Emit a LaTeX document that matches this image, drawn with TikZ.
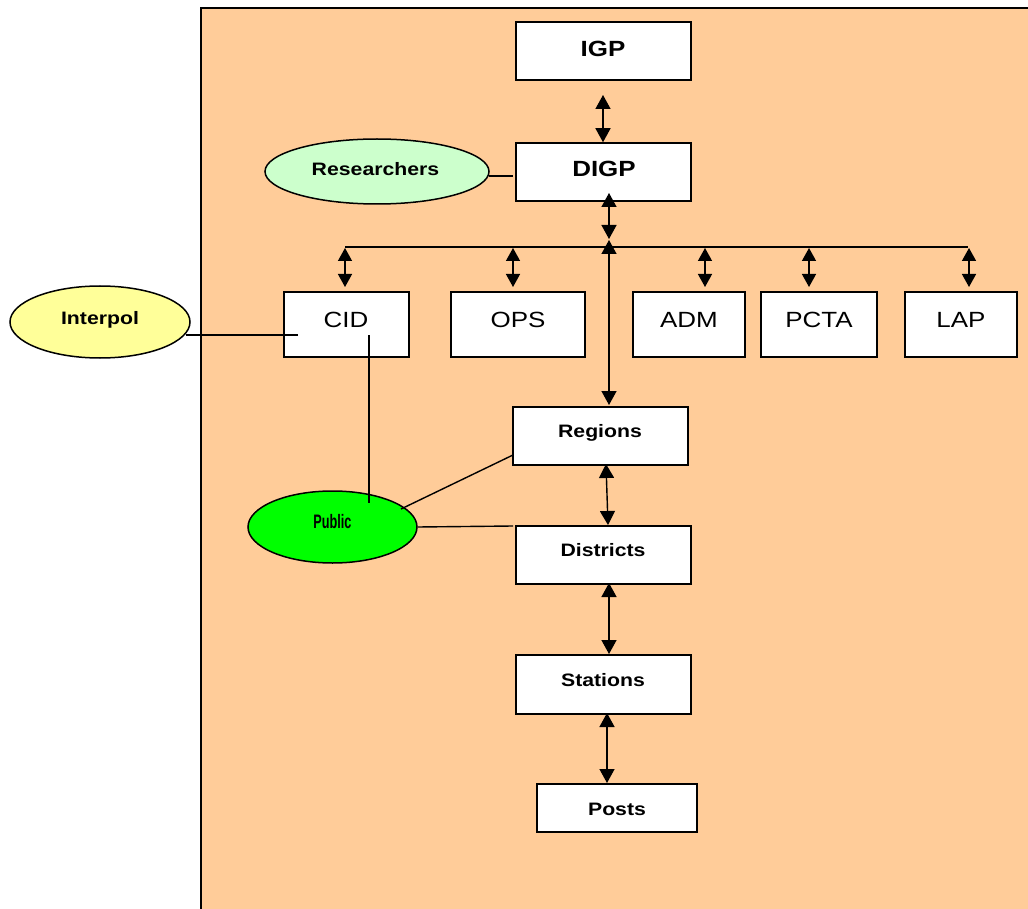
\documentclass[tikz,border=0pt]{standalone}
\usepackage{fontspec}
\setmainfont{Liberation Sans}[FakeStretch=1.18]
\newfontfamily\pubfont{Liberation Sans}[FakeStretch=0.65]
\usetikzlibrary{arrows.meta,shapes.geometric}
\definecolor{peach}{HTML}{FFCC99}
\definecolor{resgreen}{HTML}{CCFFCC}
\definecolor{intyellow}{HTML}{FFFF99}
\definecolor{pubgreen}{HTML}{00FF00}
\begin{document}
\begin{tikzpicture}[x=1pt,y=-1pt,line width=1.4pt,
  box/.style={draw=black,fill=white,line width=1.5pt,inner sep=0pt},
  oval/.style={ellipse,draw=black,line width=1.5pt,inner sep=0pt},
  tb/.style={anchor=base,inner sep=0pt,font=\bfseries\fontsize{18}{20}\selectfont},
  tbig/.style={anchor=base,inner sep=0pt,font=\bfseries\fontsize{22}{24}\selectfont},
  treg/.style={anchor=base,inner sep=0pt,font=\fontsize{22}{24}\selectfont},
  dbl/.style={{Triangle[length=14pt,width=15pt]}-{Triangle[length=14pt,width=15pt]},line width=1.4pt},
  sdbl/.style={{Triangle[length=13pt,width=14pt]}-{Triangle[length=13pt,width=14pt]},line width=1.4pt},
  link/.style={line width=1.4pt}
]
\useasboundingbox (0,0) rectangle (1028,909);
\draw[fill=peach,line width=1.8pt] (201,8) rectangle (1045,925);

% boxes
\node[box,minimum width=175pt,minimum height=58pt] (igp) at (603.5,51) {};
\node[box,minimum width=175pt,minimum height=58pt] (digp) at (603.5,172) {};
\node[box,minimum width=125pt,minimum height=65pt] (cid) at (346.5,324.5) {};
\node[box,minimum width=134pt,minimum height=65pt] (ops) at (518,324.5) {};
\node[box,minimum width=112pt,minimum height=65pt] (adm) at (689,324.5) {};
\node[box,minimum width=116pt,minimum height=65pt] (pcta) at (819,324.5) {};
\node[box,minimum width=112pt,minimum height=65pt] (lap) at (961,324.5) {};
\node[box,minimum width=175pt,minimum height=58pt] (reg) at (600.5,436) {};
\node[box,minimum width=175pt,minimum height=58pt] (dist) at (603.5,555) {};
\node[box,minimum width=175pt,minimum height=59pt] (stat) at (603.5,684.5) {};
\node[box,minimum width=160pt,minimum height=48pt] (posts) at (617,808) {};

% ellipses
\node[oval,fill=resgreen,minimum width=224pt,minimum height=65pt] (res) at (377,171.5) {};
\node[oval,fill=intyellow,minimum width=180pt,minimum height=72pt] (intp) at (100,322) {};
\node[oval,fill=pubgreen,minimum width=169pt,minimum height=72pt] (pub) at (332.5,527) {};

% texts
\node[tbig] (igpt) at (603,57) {IGP};
\node[tbig] (digpt) at (604,177) {DIGP};
\node[treg] (cidt) at (346,327) {CID};
\node[treg] (opst) at (518,327) {OPS};
\node[treg] (admt) at (689,327) {ADM};
\node[treg] (pctat) at (819,327) {PCTA};
\node[treg] (lapt) at (961,327) {LAP};
\node[tb] (regt) at (600,437) {Regions};
\node[tb] (distt) at (603,556) {Districts};
\node[tb] (statt) at (603,686) {Stations};
\node[tb] (postst) at (617,815) {Posts};
\node[tb] (rest) at (375.5,176) {Researchers};
\node[tb] (intpt) at (100,324.5) {Interpol};
\node[anchor=base,inner sep=0pt,font=\pubfont\bfseries\fontsize{19.5}{21}\selectfont] (pubt) at (332.5,528.5) {Public};

% bus
\coordinate (busL) at (345,247);
\coordinate (busR) at (968,247);
\draw[link] (busL) -- (busR);

% arrows
\coordinate (a1) at (603,95);
\draw[dbl] (a1) -- (a1 |- digp.north);
\coordinate (a2) at (609,193);
\draw[dbl] (a2) -- (609,239);
\coordinate (a3) at (609,240);
\draw[dbl] (a3) -- (609,405);
\foreach \xx/\nm in {345/cid,513/ops,705/adm,809/pcta,969/lap}{
  \draw[sdbl] (\xx,248) -- (\xx,287);
}
\coordinate (a4) at (606,464);
\draw[dbl] (a4) -- (608,525);
\coordinate (a5) at (609,583);
\draw[dbl] (a5) -- (609,654);
\coordinate (a6) at (607,713);
\draw[dbl] (a6) -- (607,783);

% plain links
\coordinate (resR) at (489,176);
\draw[link] (resR) -- (513,176);
\coordinate (cidIn) at (298,335);
\draw[link] (cidIn) -- (186,335);
\coordinate (cidIn2) at (369,335);
\draw[link] (cidIn2) -- (369,503);
\coordinate (regW) at (513,455);
\draw[link] (regW) -- (401,509);
\coordinate (distW) at (513,526);
\draw[link] (pub.east) -- (distW);
\end{tikzpicture}
\end{document}
